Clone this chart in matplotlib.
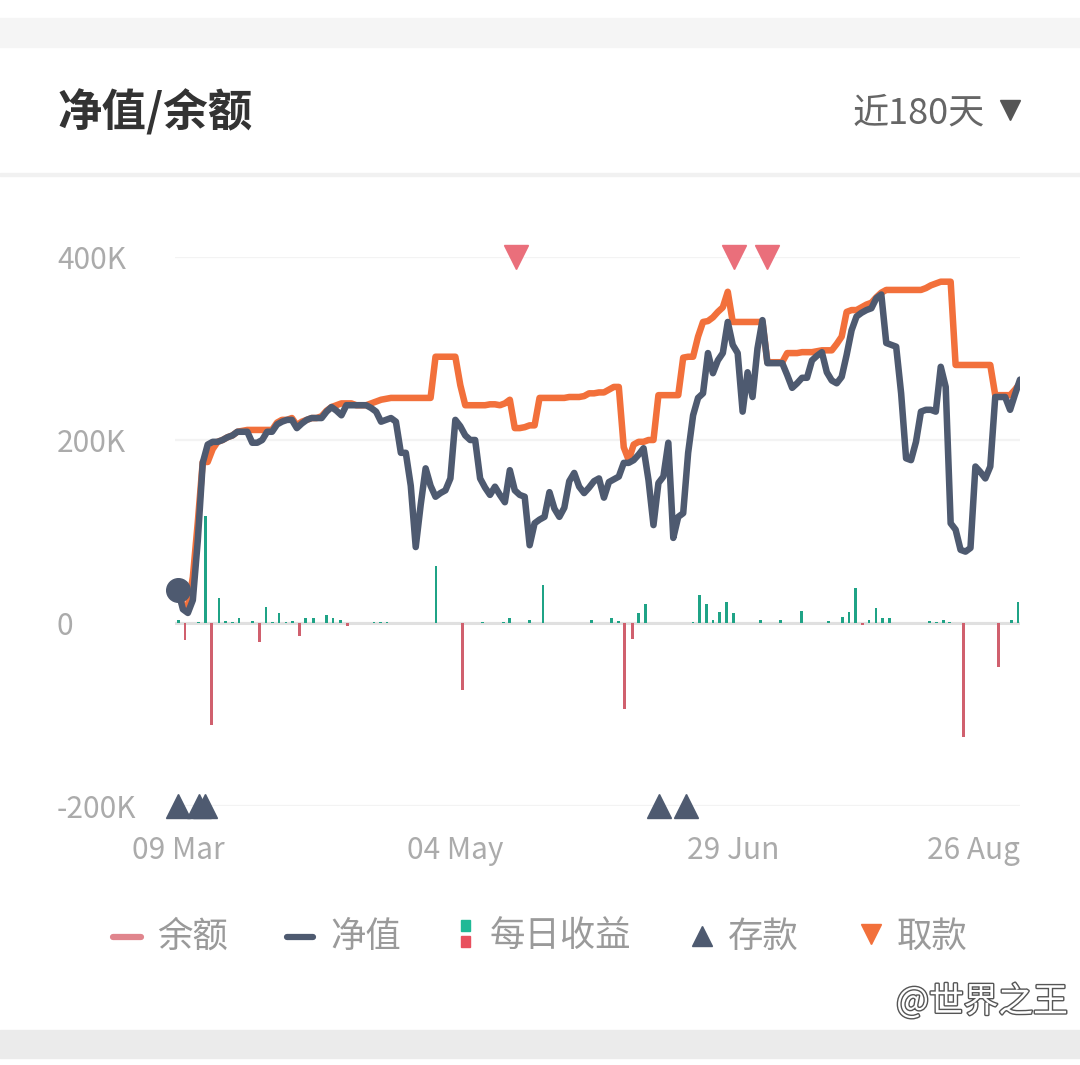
import matplotlib.pyplot as plt
import matplotlib.patheffects as pe
from matplotlib.lines import Line2D
from matplotlib.patches import Rectangle
import numpy as np

plt.rcParams['font.family'] = ['Noto Sans CJK SC', 'DejaVu Sans']

# net value (净值), one value per day from 09 Mar, in K
net = [36, 15, 11, 25, 90, 175, 195, 198, 198, 200,
       203, 205, 209, 209, 209, 197, 197, 200, 209, 209,
       217, 220, 222, 222, 213, 218, 222, 224, 224, 224,
       231, 236, 232, 227, 238, 238, 238, 238, 238, 235,
       231, 220, 222, 224, 220, 186, 186, 150, 83, 129,
       169, 150, 138, 142, 145, 158, 222, 215, 205, 200,
       200, 158, 148, 140, 149, 140, 132, 167, 145, 140,
       138, 85, 109, 113, 116, 143, 125, 116, 126, 155,
       164, 149, 142, 148, 155, 158, 137, 154, 157, 160,
       175, 175, 178, 184, 191, 156, 107, 153, 160, 197,
       93, 116, 120, 186, 227, 246, 251, 295, 273, 287,
       295, 329, 304, 295, 231, 274, 247, 300, 331, 284,
       284, 284, 284, 271, 257, 262, 268, 268, 287, 292,
       296, 274, 265, 262, 269, 293, 320, 335, 339, 342,
       344, 355, 359, 306, 304, 302, 251, 180, 178, 198,
       231, 233, 233, 231, 280, 258, 109, 102, 80, 78,
       82, 171, 165, 158, 171, 247, 247, 247, 233, 250,
       266]

# balance (余额), in K
balance = [36, 18, 18, 50, 110, 176, 176, 190, 198, 200,
           203, 205, 209, 210, 211, 211, 211, 211, 211, 211,
           219, 222, 222, 224, 216, 220, 222, 224, 224, 226,
           232, 236, 238, 240, 240, 240, 238, 238, 238, 240,
           242, 244, 245, 246, 246, 246, 246, 246, 246, 246,
           246, 246, 291, 291, 291, 291, 291, 260, 238, 238,
           238, 238, 238, 239, 239, 238, 240, 244, 213, 213,
           214, 216, 216, 246, 246, 246, 246, 246, 246, 247,
           247, 247, 248, 251, 251, 252, 252, 255, 258, 258,
           192, 178, 195, 198, 198, 200, 200, 249, 249, 249,
           249, 249, 290, 291, 291, 313, 329, 330, 334, 340,
           345, 362, 329, 329, 329, 329, 329, 329, 329, 285,
           285, 285, 285, 295, 295, 295, 296, 296, 296, 297,
           298, 298, 298, 305, 313, 340, 342, 342, 345, 348,
           350, 356, 361, 364, 364, 364, 364, 364, 364, 364,
           364, 366, 369, 371, 373, 373, 373, 282, 282, 282,
           282, 282, 282, 282, 282, 249, 249, 249, 249, 255,
           262]

# daily income (每日收益), position in days and value in K
income_days = [0.1, 1.4, 2.8, 4.1, 5.6, 6.8, 8.3, 9.6, 11.0, 12.3,
               13.7, 15.1, 16.4, 17.8, 19.1, 20.4, 21.8, 23.1, 24.6, 25.8,
               27.3, 28.7, 30.0, 31.3, 32.8, 34.2, 39.6, 40.9, 42.2, 43.8,
               45.1, 47.8, 52.1, 57.5, 61.5, 64.2, 65.7, 67.0, 71.0, 73.7,
               75.1, 76.4, 77.8, 79.5, 80.8, 83.5, 84.8, 87.5, 88.9, 90.2,
               91.7, 93.0, 94.4, 104.0, 105.3, 106.7, 108.0, 109.4, 110.7, 112.2,
               117.6, 120.3, 121.6, 123.2, 125.9, 129.9, 131.4, 134.1, 135.5, 136.8,
               138.2, 139.5, 140.9, 142.2, 143.6, 144.9, 151.8, 153.1, 154.5, 155.8,
               157.2, 158.6, 165.6, 166.9, 168.3, 169.6]
income = [3, -19, 0.5, 1.5, 117, -112, 27, 2.5, 1, 6,
          0.5, 2, -21, 18, 1, 10.5, 1, 2.5, -14, 6,
          6, 0.5, 9, 6, 3, -3, 1.5, 1, 1, 0.5,
          -0.5, 0.5, 62, -73, 1, 0.5, 1, 5, 3, 41,
          0.5, 0.5, -0.5, 0.5, 0.5, 3.5, 0.5, 6, 2, -94,
          -17, 11, 21, 1, 31, 21, 3, 12, 23, 11,
          3, 0.5, 3, 0.5, 13, 0.5, 2, 6.5, 11.5, 38.5,
          -2.5, 3, 16, 5, 5, 0.5, 2, 1.5, 3.5, 1.5,
          0.5, -125, -48, 0.5, 3, 23]

deposit_days = [0, 4.3, 5.4, 97.1, 102.6]
withdraw_days = [68.2, 112.2, 118.9]

tick_days = [0, 56, 112, 170]
tick_labels = ['09 Mar', '04 May', '29 Jun', '26 Aug']
y_ticks = [-200, 0, 200, 400]
y_labels = ['-200K', '0', '200K', '400K']

W, H = 1080, 1065
fig = plt.figure(figsize=(W / 100, H / 100), dpi=100)


def fx(x):
    return x / W


def fy(y):
    return 1 - y / H


# page furniture
fig.patches.append(Rectangle((0, fy(47)), 1, 29 / H, transform=fig.transFigure,
                             color='#f5f5f5', zorder=0))
fig.patches.append(Rectangle((0, fy(176)), 1, 3 / H, transform=fig.transFigure,
                             color='#f1f1f1', zorder=0))
fig.patches.append(Rectangle((0, fy(1058)), 1, 28 / H, transform=fig.transFigure,
                             color='#ebebeb', zorder=0))

fig.text(fx(58), fy(113), '净值/余额', fontsize=32, fontweight='bold',
         color='#333333', va='center', ha='left')
fig.text(fx(985), fy(114), '近180天', fontsize=26, color='#666666',
         va='center', ha='right')
fig.add_artist(Line2D([fx(1010)], [fy(110)], marker='v', markersize=15,
                      color='#555555', transform=fig.transFigure))

# chart
ax = fig.add_axes([fx(175), fy(806), (1020 - 175) / W, (806 - 257) / H])
days = np.arange(len(net))

colors = ['#1fa386' if v >= 0 else '#d0606e' for v in income]
ax.bar(income_days, income, width=0.55, color=colors, zorder=3)
ax.axhline(0, color='#e0e0e0', lw=2.2, zorder=2)

ax.plot(days, balance, color='#f2703b', lw=4.7, zorder=4,
        solid_joinstyle='round', solid_capstyle='round')
ax.plot(days, net, color='#4e5a70', lw=4.7, zorder=5,
        solid_joinstyle='round', solid_capstyle='round')
ax.plot(days[:1], net[:1], 'o', ms=17, color='#4e5a70', zorder=6, clip_on=False)

ax.plot(deposit_days, [y_ticks[0]] * len(deposit_days), '^', ms=17,
        color='#4e5a70', clip_on=False, zorder=6, lw=0)
ax.plot(withdraw_days, [y_ticks[-1]] * len(withdraw_days), 'v', ms=17,
        color='#ea6f7b', clip_on=False, zorder=6, lw=0)

ax.set_xlim(-0.6, 170.0)
ax.set_ylim(-200, 400)
ax.set_yticks(y_ticks)
ax.set_yticklabels(y_labels)
ax.set_xticks(tick_days)
ax.set_xticklabels(tick_labels)
ax.grid(axis='y', color='#f3f3f3', lw=1.6, zorder=0)
for s in ax.spines.values():
    s.set_visible(False)
ax.tick_params(axis='y', length=0, pad=85, labelsize=21.5, labelcolor='#ababab')
ax.tick_params(axis='x', length=0, pad=21, labelsize=21.5, labelcolor='#ababab')
for lab in ax.get_yticklabels():
    lab.set_ha('left')
ax.get_xticklabels()[-1].set_ha('right')

# legend
ly = fy(937)
fig.add_artist(Line2D([fx(113), fx(141)], [ly, ly], color='#e0858d', lw=4.5,
                      solid_capstyle='round', transform=fig.transFigure))
fig.add_artist(Line2D([fx(287), fx(313)], [ly, ly], color='#4e5a70', lw=4.5,
                      solid_capstyle='round', transform=fig.transFigure))
fig.patches.append(Rectangle((fx(461), fy(931)), 9 / W, 11 / H,
                             transform=fig.transFigure, color='#1fb996'))
fig.patches.append(Rectangle((fx(461), fy(947)), 9 / W, 11 / H,
                             transform=fig.transFigure, color='#e8505e'))
fig.add_artist(Line2D([fx(702)], [fy(936)], marker='^', markersize=15,
                      color='#4e5a70', transform=fig.transFigure))
fig.add_artist(Line2D([fx(871)], [fy(934)], marker='v', markersize=15,
                      color='#f2703b', transform=fig.transFigure))
for x, t in [(157, '余额'), (330, '净值'), (490, '每日收益'), (728, '存款'), (897, '取款')]:
    fig.text(fx(x), ly, t, fontsize=25.5, color='#9a9a9a', va='center', ha='left')

# watermark
fig.text(fx(1068), fy(1002), '@世界之王', fontsize=25, color='white',
         ha='right', va='center',
         path_effects=[pe.withStroke(linewidth=2, foreground='#555555')])

fig.savefig('out.png', dpi=100)
